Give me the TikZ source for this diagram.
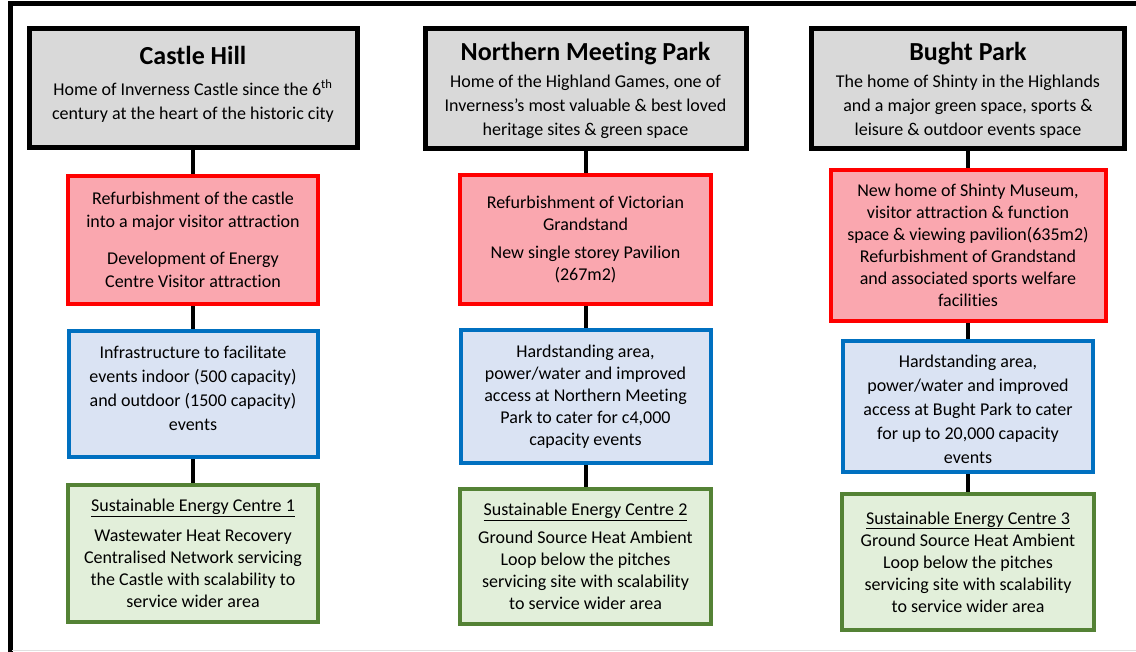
\documentclass[tikz,border=0pt]{standalone}
\usepackage{fontspec}
\setmainfont{Carlito}[Ligatures=NoCommon]

\definecolor{sitegray}{RGB}{217,217,217}
\definecolor{buildpink}{RGB}{250,167,175}
\definecolor{buildred}{RGB}{255,0,0}
\definecolor{eventblue}{RGB}{218,227,243}
\definecolor{eventedge}{RGB}{0,112,192}
\definecolor{energygreen}{RGB}{226,239,218}
\definecolor{energyedge}{RGB}{84,130,53}

\newcommand\sitename[1]{{\fontsize{26}{30}\selectfont\bfseries #1}}

\begin{document}
\begin{tikzpicture}[x=1pt,y=-1pt,
  box/.style={draw, line width=4pt, align=center, inner sep=0pt, text=black,
    font=\fontsize{18}{22}\selectfont},
  sitebox/.style={box, fill=sitegray, draw=black, line width=5pt,
    font=\fontsize{18}{24}\selectfont},
  buildbox/.style={box, fill=buildpink, draw=buildred},
  eventbox/.style={box, fill=eventblue, draw=eventedge},
  energybox/.style={box, fill=energygreen, draw=energyedge},
  link/.style={line width=4pt, black}]

  \useasboundingbox (0,0) rectangle (1136,652);

  % page frame
  \draw[line width=4.5pt] (10.5,652) -- (10.5,3.5) -- (1136,3.5);
  \draw[black!12, line width=1.5pt] (12,650.7) -- (1136,650.7);

  % Castle Hill
  \node[sitebox, minimum width=328, minimum height=119] (castle) at (193,88)
    {\sitename{Castle Hill}\\[7pt] Home of Inverness Castle since the 6\textsuperscript{th}\\ century at the heart of the historic city\rule[-11pt]{0pt}{0pt}};
  \node[buildbox, minimum width=250, minimum height=128, font=\fontsize{18}{23}\selectfont] (castleref) at (193,240)
    {Refurbishment of the castle\\ into a major visitor attraction\\[14pt] Development of Energy\\ Centre Visitor attraction};
  \node[eventbox, minimum width=249, minimum height=126, font=\fontsize{18}{24}\selectfont] (castleinf) at (193,394)
    {Infrastructure to facilitate\\ events indoor (500 capacity)\\ and outdoor (1500 capacity)\\ events\rule[-11pt]{0pt}{0pt}};
  \node[energybox, minimum width=250, minimum height=137] (castlesec) at (193,553.5)
    {\underline{Sustainable Energy Centre 1}\\[8pt] Wastewater Heat Recovery\\ Centralised Network servicing\\ the Castle with scalability to\\ service wider area};

  % Northern Meeting Park
  \node[sitebox, minimum width=321, minimum height=120] (nmp) at (585.5,88.5)
    {\rule{0pt}{22pt}\sitename{Northern Meeting Park}\\[3pt] Home of the Highland Games, one of\\ Inverness’s most valuable \& best loved\\ heritage sites \& green space};
  \node[buildbox, minimum width=251, minimum height=129] (nmpref) at (585.5,239.5)
    {Refurbishment of Victorian\\ Grandstand\\[7pt] New single storey Pavilion\\ (267m2)};
  \node[eventbox, minimum width=250, minimum height=133] (nmpinf) at (585.5,396.5)
    {Hardstanding area,\\ power/water and improved\\ access at Northern Meeting\\ Park to cater for c4,000\\ capacity events};
  \node[energybox, minimum width=251, minimum height=135] (nmpsec) at (585.5,556.5)
    {\underline{Sustainable Energy Centre 2}\\[6pt] Ground Source Heat Ambient\\ Loop below the pitches\\ servicing site with scalability\\ to service wider area};

  % Bught Park
  \node[sitebox, minimum width=313, minimum height=120] (bught) at (968,88.5)
    {\rule{0pt}{22pt}\sitename{Bught Park}\\[3pt] The home of Shinty in the Highlands\\ and a major green space, sports \&\\ leisure \& outdoor events space};
  \node[buildbox, minimum width=275, minimum height=151] (bughtref) at (968,245.5)
    {New home of Shinty Museum,\\ visitor attraction \& function\\ space \& viewing pavilion(635m2)\\ Refurbishment of Grandstand\\ and associated sports welfare\\ facilities};
  \node[eventbox, minimum width=250, minimum height=131, font=\fontsize{18}{24}\selectfont] (bughtinf) at (968,406.5)
    {\rule{0pt}{18pt}Hardstanding area,\\ power/water and improved\\ access at Bught Park to cater\\ for up to 20,000 capacity\\ events};
  \node[energybox, minimum width=252, minimum height=136] (bughtsec) at (968,562)
    {\underline{Sustainable Energy Centre 3}\\ Ground Source Heat Ambient\\ Loop below the pitches\\ servicing site with scalability\\ to service wider area};

  \foreach \col in {castle,nmp,bught}{
    \draw[link] (\col) -- (\col ref);
    \draw[link] (\col ref) -- (\col inf);
    \draw[link] (\col inf) -- (\col sec);
  }
\end{tikzpicture}
\end{document}
